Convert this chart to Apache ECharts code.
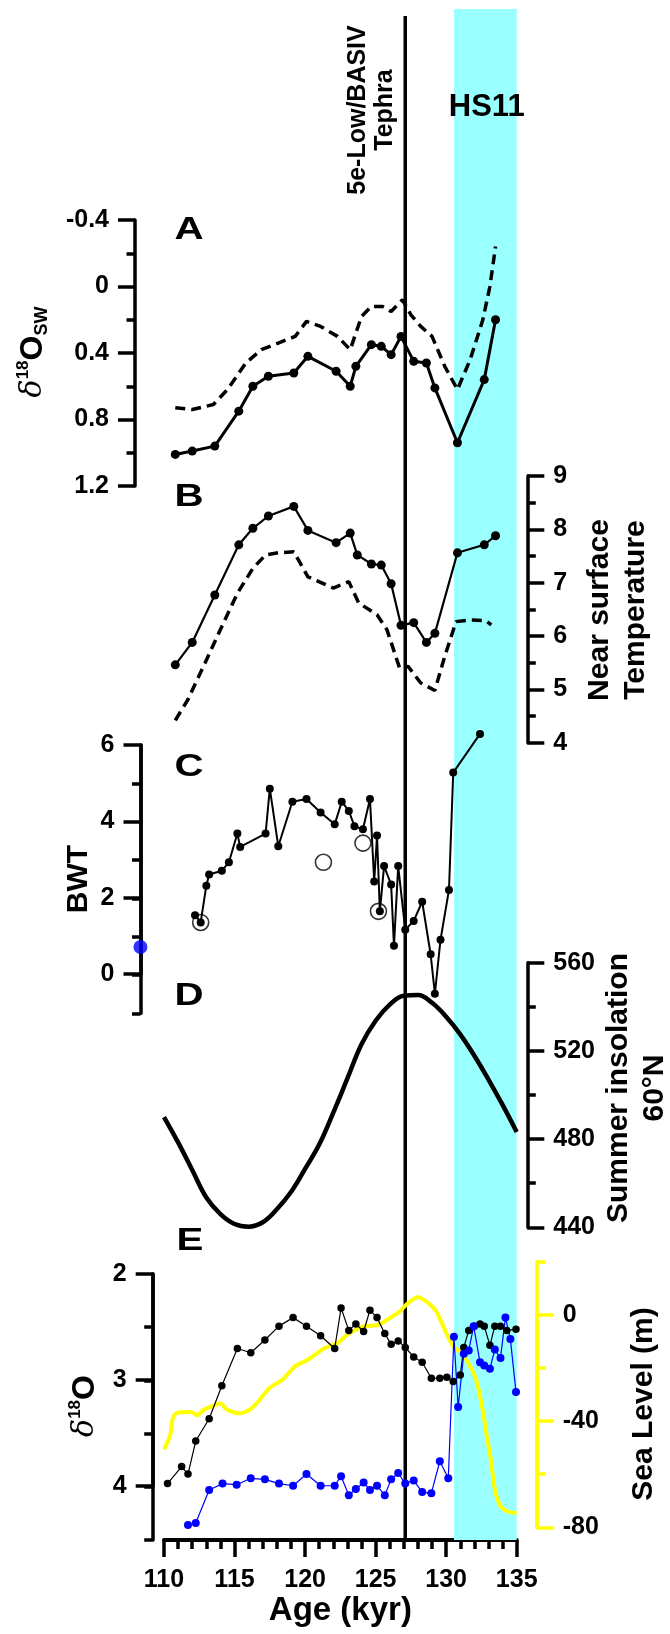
<!DOCTYPE html>
<html>
<head>
<meta charset="utf-8">
<script src="https://cdn.jsdelivr.net/npm/echarts@6/dist/echarts.min.js"></script>
<style>
  html, body { margin: 0; padding: 0; background: #fff; }
  #chart { width: 670px; height: 1634px; }
</style>
</head>
<body>
<div id="chart"></div>
<script>
// ---------------------------------------------------------------------------
// Data (age in kyr)
// ---------------------------------------------------------------------------
// A: seawater d18O, reconstruction (solid) and model run (dashed)
const swAges = [110.8,112.0,113.6,115.3,116.3,117.4,119.2,120.2,122.2,123.2,123.6,124.7,125.4,126.1,126.8,127.7,128.6,129.2,130.8,132.7,133.5];
const swVals = [1.01,0.99,0.96,0.75,0.60,0.54,0.52,0.42,0.51,0.60,0.48,0.35,0.36,0.41,0.30,0.45,0.46,0.61,0.94,0.56,0.20];
const swModelAges = [110.8,112.0,113.5,114.5,115.8,116.9,118.1,119.3,120.1,121.1,122.3,123.2,124.0,124.7,125.5,126.1,126.9,127.5,128.2,129.0,129.9,130.8,131.7,132.6,133.1,133.5];
const swModelVals = [0.73,0.74,0.71,0.62,0.46,0.38,0.34,0.30,0.21,0.24,0.30,0.38,0.18,0.12,0.12,0.15,0.08,0.17,0.24,0.30,0.48,0.62,0.44,0.20,0.00,-0.24];

// B: near surface temperature
const sstAges = [110.8,112.0,113.6,115.3,116.3,117.4,119.2,120.2,122.2,123.2,123.7,124.7,125.4,126.1,126.8,127.7,128.6,129.2,130.8,132.7,133.5];
const sstVals = [5.46,5.88,6.77,7.71,8.02,8.25,8.43,7.98,7.75,7.93,7.52,7.35,7.33,6.98,6.20,6.25,5.88,6.05,7.56,7.71,7.88];
const sstModelAges = [110.8,111.7,112.9,114.1,115.2,116.3,117.2,118.1,119.2,120.2,122.0,123.1,123.8,125.1,125.8,126.7,127.3,128.2,129.2,129.9,130.7,131.7,132.8,133.2];
const sstModelVals = [4.42,4.81,5.49,6.18,6.80,7.27,7.52,7.56,7.58,7.11,6.90,7.02,6.62,6.40,6.12,5.40,5.43,5.12,4.98,5.62,6.27,6.30,6.29,6.21];

// C: bottom water temperature
const bwtAges = [112.2,112.6,113.0,113.2,114.1,114.6,115.2,115.4,117.2,117.5,118.1,119.1,120.1,121.1,122.1,122.6,123.1,123.5,124.1,124.6,124.9,125.1,125.3,125.6,126.1,126.3,126.6,127.1,127.7,128.3,128.9,129.2,129.6,130.2,130.5,132.4];
const bwtVals = [1.56,1.37,2.33,2.62,2.72,2.94,3.69,3.34,3.69,4.86,3.36,4.52,4.59,4.24,3.93,4.52,4.28,3.88,3.80,4.59,2.44,3.64,1.66,2.84,2.36,0.76,2.84,1.18,1.41,1.91,0.54,-0.49,0.92,2.22,5.28,6.29];
const bwtOpenAges = [112.6,121.3,124.1,125.2];
const bwtOpenVals = [1.37,2.94,3.44,1.66];
const bwtModernAges = [108.33];
const bwtModernVals = [0.73];

// D: summer insolation 60°N
const insolAges = [110,111,112,113,114,115,116,117,118,119,120,121,122,123,124,125,126,127,128,129,130,131,132,133,134,135];
const insolVals = [490,478.5,466,453.5,446,441.5,440.3,442.3,448.2,456,466.5,477.5,492,507.5,523,533.7,541,545,545.3,541.8,535.5,527.5,517.8,507,495.5,483.2];

// E: benthic (black) and planktonic (blue) d18O, sea level (yellow)
const benthicAges = [110.25,111.25,111.7,112.25,113.2,114.1,115.2,116.15,117.15,118.15,119.15,120.1,121.1,122.1,122.55,123.1,123.6,124.15,124.6,125.1,125.65,126.1,126.6,127.1,127.7,128.3,128.95,129.55,130.05,130.5,131.0,131.25,131.6,132.0,132.4,132.7,133.1,133.45,133.85,134.3,134.95];
const benthicVals = [3.97,3.81,3.88,3.57,3.36,3.05,2.70,2.74,2.62,2.49,2.41,2.49,2.58,2.70,2.32,2.53,2.47,2.54,2.34,2.41,2.56,2.66,2.63,2.69,2.78,2.83,2.98,2.98,2.97,3.01,2.95,2.69,2.53,2.49,2.47,2.49,2.67,2.49,2.49,2.53,2.52];
const planktonicAges = [111.7,112.25,113.2,114.15,115.15,116.15,117.15,118.15,119.15,120.1,121.1,122.1,122.55,123.1,123.6,124.15,124.6,125.1,125.65,126.1,126.6,127.1,127.7,128.3,128.95,129.55,130.15,130.55,130.85,131.25,131.6,131.95,132.4,132.7,133.1,133.45,133.85,134.2,134.55,134.95];
const planktonicVals = [4.36,4.34,4.03,3.97,3.98,3.92,3.93,3.97,3.99,3.88,3.99,3.99,3.90,4.08,4.02,3.96,4.03,3.99,4.08,3.93,3.87,3.97,3.94,4.05,4.06,3.76,3.92,2.59,3.25,2.75,2.72,2.49,2.83,2.86,2.89,2.71,2.79,2.41,2.61,3.11];
const seaAges = [110.0,110.2,110.45,110.65,111.0,111.9,112.35,112.8,113.4,114.0,114.45,115.35,116.1,116.7,117.5,118.4,119.3,120.2,121.4,122.3,123.1,124.15,125.2,126.0,126.7,127.3,128.0,128.7,129.3,129.9,130.5,131.1,131.7,132.1,132.4,132.7,132.95,133.1,133.3,133.5,133.8,134.1,134.5,135.0];
const seaVals = [-50.6,-48.5,-45,-38.5,-36.8,-36.6,-37.8,-35.8,-34.4,-33.4,-35.6,-37.1,-35.6,-32.5,-27.5,-24.4,-19.4,-16.9,-12.5,-10.6,-7.1,-4.4,-3.75,-1.25,1.25,4.4,6.6,4.6,1.25,-5.6,-11.9,-14.4,-19.4,-24,-30.6,-39.4,-48,-52,-60,-67,-71.5,-73.3,-74.3,-74.6];

// Event markers
const tephraAge = 127.1;
const hs11Span = [130.55, 135];

// Axis ranges
const ageRange = [110, 135];
const swRange = [-0.4, 1.2];
const sstRange = [4, 9];
const bwtRange = [-1, 6];
const insolRange = [440, 560];
const d18ORange = [2, 4.5];
const seaRange = [-80, 20];

// ---------------------------------------------------------------------------
const FONT = 'Arial, sans-serif';
const zip = (a, b) => a.map((v, i) => [v, b[i]]);

// plot area shared horizontally by every panel
const PL = 164, PW = 352.7;
const grids = [
  { top: 9,      height: 1531 },   // 0 event band / tephra line
  { top: 220,    height: 266 },    // 1 A
  { top: 476,    height: 266.7 },  // 2 B
  { top: 745,    height: 268.3 },  // 3 C (full axis, minor ticks)
  { top: 745,    height: 229 },    // 4 C (labelled ticks 0..6)
  { top: 962.7,  height: 264.6 },  // 5 D
  { top: 1274,   height: 266 },    // 6 E d18O (full axis, minor ticks)
  { top: 1274,   height: 212 },    // 7 E d18O (labelled ticks 2..4)
  { top: 1261.7, height: 265.6 },  // 8 E sea level (full axis)
  { top: 1315,   height: 212.3 }   // 9 E sea level (labelled ticks -80..0)
].map(g => ({ left: PL, width: PW, top: g.top, height: g.height, containLabel: false }));

const TW = 3.5;
const LABEL = { color: '#000', fontSize: 25, fontWeight: 'bold', fontFamily: FONT };
function xAx(i, show) {
  return {
    type: 'value', gridIndex: i, min: ageRange[0], max: ageRange[1], interval: 5, show: !!show,
    splitLine: { show: false },
    axisLine: { show: true, onZero: false, lineStyle: { color: '#000', width: 4 } },
    axisTick: { show: true, length: 17, lineStyle: { color: '#000', width: TW } },
    minorTick: { show: true, splitNumber: 5, length: 9, lineStyle: { color: '#000', width: TW } },
    axisLabel: Object.assign({ show: true, margin: 28 }, LABEL),
    name: show ? 'Age (kyr)' : '', nameLocation: 'middle', nameGap: 54,
    nameTextStyle: { color: '#000', fontSize: 33, fontWeight: 'bold', fontFamily: FONT }
  };
}
function yAx(o) {
  const c = o.color || '#000';
  return {
    type: 'value', gridIndex: o.g, position: o.pos, offset: o.off,
    min: o.min, max: o.max, interval: o.int, inverse: !!o.inv, show: o.show !== false,
    splitLine: { show: false },
    axisLine: { show: o.line !== false, onZero: false, lineStyle: { color: c, width: TW } },
    axisTick: { show: true, length: o.tl || 17, lineStyle: { color: c, width: TW } },
    minorTick: { show: !!o.minor, splitNumber: o.minor || 2, length: 8.5, lineStyle: { color: c, width: TW } },
    axisLabel: Object.assign({ show: !!o.labels, margin: 26 }, LABEL)
  };
}

const xAxes = grids.map((g, i) => xAx(i, i === 6));
const yAxes = [
  yAx({ g: 0, min: 0, max: 1, show: false }),
  yAx({ g: 1, pos: 'left',  off: 29,   min: swRange[0], max: swRange[1], int: 0.4, inv: true, minor: 2, labels: true }),
  yAx({ g: 2, pos: 'right', off: 10.6, min: sstRange[0], max: sstRange[1], int: 1, minor: 2, labels: true }),
  yAx({ g: 3, pos: 'left',  off: 23.5, min: bwtRange[0], max: bwtRange[1], int: 1, tl: 8.5 }),
  yAx({ g: 4, pos: 'left',  off: 23.5, min: 0, max: bwtRange[1], int: 2, labels: true }),
  yAx({ g: 5, pos: 'right', off: 10.6, min: insolRange[0], max: insolRange[1], int: 40, minor: 2, labels: true }),
  yAx({ g: 6, pos: 'left',  off: 11.3, min: d18ORange[0], max: d18ORange[1], int: 0.5, inv: true, tl: 8.5 }),
  yAx({ g: 7, pos: 'left',  off: 11.3, min: d18ORange[0], max: 4, int: 1, inv: true, labels: true }),
  yAx({ g: 8, pos: 'right', off: 20,   min: seaRange[0], max: seaRange[1], int: 20, tl: 8.5, color: '#ffff00' }),
  yAx({ g: 9, pos: 'right', off: 20,   min: seaRange[0], max: 0, int: 40, labels: true, color: '#ffff00' })
];

function lineSeries(axis, data, opt) {
  return Object.assign({
    type: 'line', xAxisIndex: axis, yAxisIndex: axis, data: data, clip: false,
    symbol: 'circle', symbolSize: 8, showSymbol: true,
    itemStyle: { color: '#000' },
    lineStyle: { color: '#000', width: 2.5 },
    emphasis: { disabled: true }, silent: true
  }, opt || {});
}

const series = [
  // HS11 band
  {
    type: 'line', xAxisIndex: 0, yAxisIndex: 0, data: [], silent: true,
    markArea: {
      silent: true, itemStyle: { color: '#99ffff' },
      data: [[{ xAxis: hs11Span[0], yAxis: 0 }, { xAxis: hs11Span[1], yAxis: 1 }]]
    }
  },
  // tephra horizon
  lineSeries(0, [[tephraAge, 0], [tephraAge, 0.9954]], { symbol: 'none', lineStyle: { color: '#000', width: 3.5 } }),
  // A
  lineSeries(1, zip(swModelAges, swModelVals), { symbol: 'none', lineStyle: { color: '#000', width: 3.5, type: [10, 6] } }),
  lineSeries(1, zip(swAges, swVals), { symbolSize: 9, lineStyle: { color: '#000', width: 3 } }),
  // B
  lineSeries(2, zip(sstModelAges, sstModelVals), { symbol: 'none', lineStyle: { color: '#000', width: 3.5, type: [10, 6] } }),
  lineSeries(2, zip(sstAges, sstVals), { symbolSize: 9, lineStyle: { color: '#000', width: 2.2 } }),
  // C
  lineSeries(3, zip(bwtAges, bwtVals), { symbolSize: 8, lineStyle: { color: '#000', width: 2 } }),
  {
    type: 'scatter', xAxisIndex: 3, yAxisIndex: 3, data: zip(bwtOpenAges, bwtOpenVals), clip: false, silent: true,
    symbol: 'circle', symbolSize: 16, itemStyle: { color: 'rgba(0,0,0,0)', borderColor: '#000', borderWidth: 1.6 }
  },
  {
    type: 'scatter', xAxisIndex: 3, yAxisIndex: 3, data: zip(bwtModernAges, bwtModernVals), clip: false, silent: true,
    symbol: 'circle', symbolSize: 14, itemStyle: { color: '#0000ff' }, z: 5
  },
  // D
  lineSeries(5, zip(insolAges, insolVals), { symbol: 'none', smooth: 0.4, lineStyle: { color: '#000', width: 4.5 } }),
  // E
  lineSeries(8, zip(seaAges, seaVals), { symbol: 'none', smooth: 0.3, lineStyle: { color: '#ffff00', width: 4 } }),
  lineSeries(6, zip(benthicAges, benthicVals), { symbolSize: 7.5, lineStyle: { color: '#000', width: 1.2 } }),
  lineSeries(6, zip(planktonicAges, planktonicVals), { symbolSize: 8, itemStyle: { color: '#0000ff' }, lineStyle: { color: '#0000ff', width: 1.2 } })
];

function txt(x, y, text, size, rot, extra, sx) {
  return {
    type: 'text', x: x, y: y, rotation: rot || 0, scaleX: sx || 1, silent: true, z: 100,
    style: Object.assign({
      text: text, fontSize: size, fontWeight: 'bold', fontFamily: FONT, fill: '#000',
      align: 'center', verticalAlign: 'middle', textAlign: 'center', textVerticalAlign: 'middle'
    }, extra || {})
  };
}
const R = Math.PI / 2;
const deltaRich = {
  d: { fontSize: 30, fontWeight: 'normal', fontStyle: 'italic', fontFamily: '"DejaVu Serif", serif', lineHeight: 36, fill: '#000' },
  s: { fontSize: 17, fontWeight: 'bold', fontFamily: FONT, verticalAlign: 'top', lineHeight: 36, fill: '#000' },
  o: { fontSize: 32, fontWeight: 'bold', fontFamily: FONT, lineHeight: 36, fill: '#000' },
  b: { fontSize: 18, fontWeight: 'bold', fontFamily: FONT, verticalAlign: 'bottom', lineHeight: 36, fill: '#000' }
};

const graphics = [
  // panel letters
  txt(189, 230, 'A', 31, 0, null, 1.3), txt(189, 497.5, 'B', 31, 0, null, 1.3), txt(189, 767.5, 'C', 31, 0, null, 1.3),
  txt(189, 996.7, 'D', 31, 0, null, 1.3), txt(190, 1241, 'E', 31, 0, null, 1.3),
  // event labels
  txt(358, 110, '5e-Low/BASIV', 25, R), txt(385, 110, 'Tephra', 25, R),
  txt(486.7, 107, 'HS11', 31),
  // axis titles
  txt(33, 352, '{d|δ}{s|18}{o|O}{b|SW}', 30, R, { rich: deltaRich }),
  txt(600, 610, 'Near surface', 30, R), txt(636, 610, 'Temperature', 30, R),
  txt(79, 879, 'BWT', 30, R),
  txt(618.3, 1088, 'Summer insolation', 30, R), txt(655, 1088, '60°N', 30, R),
  txt(85, 1406, '{d|δ}{s|18}{o|O}', 30, R, { rich: deltaRich }),
  txt(643.3, 1404, 'Sea Level (m)', 30, R)
];

const chart = echarts.init(document.getElementById('chart'), null, { renderer: 'canvas' });
chart.setOption({
  animation: false,
  backgroundColor: '#fff',
  grid: grids,
  xAxis: xAxes,
  yAxis: yAxes,
  series: series,
  graphic: { elements: graphics }
});
</script>
</body>
</html>
